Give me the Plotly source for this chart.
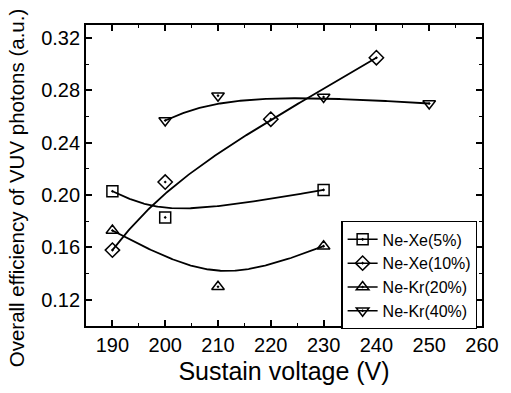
import numpy as np
import plotly.graph_objects as go
from math import comb

# ---- data ----
xe5_x = [190, 200, 230]
xe5_y = [0.203, 0.183, 0.204]
xe10_x = [190, 200, 220, 240]
xe10_y = [0.158, 0.210, 0.258, 0.305]
kr20_x = [190, 210, 230]
kr20_y = [0.173, 0.130, 0.161]
kr40_x = [200, 210, 230, 250]
kr40_y = [0.257, 0.276, 0.275, 0.270]

names = ["Ne-Xe(5%)", "Ne-Xe(10%)", "Ne-Kr(20%)", "Ne-Kr(40%)"]
symbols = ["square-open-dot", "diamond-open-dot", "triangle-up-open-dot", "triangle-down-open-dot"]
sizes = [11, 11, 11, 11]

x_ticks = [190, 200, 210, 220, 230, 240, 250, 260]
y_ticks = [0.12, 0.16, 0.20, 0.24, 0.28, 0.32]


def smooth_curve(xs, ys, n=200, w_inner=2.0):
    """Smoothing B-spline-like curve (rational Bezier) using the data as control points."""
    xs = np.asarray(xs, float)
    ys = np.asarray(ys, float)
    deg = len(xs) - 1
    w = np.full(len(xs), w_inner)
    w[0] = w[-1] = 1.0
    t = np.linspace(0, 1, n)
    B = np.array([comb(deg, i) * t**i * (1 - t)**(deg - i) for i in range(deg + 1)])
    Bw = B * w[:, None]
    den = Bw.sum(axis=0)
    return (Bw * xs[:, None]).sum(axis=0) / den, (Bw * ys[:, None]).sum(axis=0) / den


series = [(xe5_x, xe5_y), (xe10_x, xe10_y), (kr20_x, kr20_y), (kr40_x, kr40_y)]

fig = go.Figure()
for (xs, ys), name, sym, sz in zip(series, names, symbols, sizes):
    cx, cy = smooth_curve(xs, ys)
    mk = dict(symbol=sym, size=sz, color="black", line=dict(color="black", width=1.5))
    fig.add_trace(go.Scatter(x=cx, y=cy, mode="lines", line=dict(color="black", width=1.8),
                             showlegend=False, hoverinfo="skip", legendgroup=name))
    fig.add_trace(go.Scatter(x=xs, y=ys, mode="markers", name=name, legendgroup=name,
                             showlegend=False, marker=mk))
    # legend-only entry (line + marker)
    fig.add_trace(go.Scatter(x=[None], y=[None], mode="lines+markers", name=name,
                             legendgroup=name, line=dict(color="black", width=1.5), marker=mk))

font = "Liberation Sans, Arial, sans-serif"
axis_common = dict(showline=True, linecolor="black", linewidth=1.8, mirror="ticks",
                   ticks="inside", ticklen=6, tickwidth=1.5, tickcolor="black",
                   showgrid=False, zeroline=False,
                   tickfont=dict(family=font, size=20, color="black"))

fig.update_xaxes(range=[185, 260], tickvals=x_ticks, ticktext=[str(v) for v in x_ticks],
                 minor=dict(ticks="inside", ticklen=3.5, tickwidth=1.2, dtick=5, tick0=185,
                            tickcolor="black", showgrid=False),
                 title=dict(text="Sustain voltage (V)", font=dict(family=font, size=25, color="black"),
                            standoff=8),
                 **axis_common)
fig.update_yaxes(range=[0.10, 0.33], tickvals=y_ticks, ticktext=[f"{v:.2f}" for v in y_ticks],
                 minor=dict(ticks="inside", ticklen=3.5, tickwidth=1.2, dtick=0.02, tick0=0.10,
                            tickcolor="black", showgrid=False),
                 **axis_common)

fig.add_annotation(text="Overall efficiency of VUV photons (a.u.)", textangle=-90,
                   xref="paper", yref="paper", x=-0.1753, y=0.4595,
                   xanchor="center", yanchor="middle", showarrow=False,
                   font=dict(family=font, size=20.5, color="black"))

fig.update_layout(
    width=511, height=393,
    margin=dict(l=86, r=20, t=25, b=59),
    paper_bgcolor="white", plot_bgcolor="white",
    showlegend=True,
    legend=dict(x=0.645, y=0.348, xanchor="left", yanchor="top",
                bgcolor="white", bordercolor="black", borderwidth=1.2,
                font=dict(family=font, size=16, color="black"),
                tracegroupgap=0),
)

fig.write_html("out.html")
